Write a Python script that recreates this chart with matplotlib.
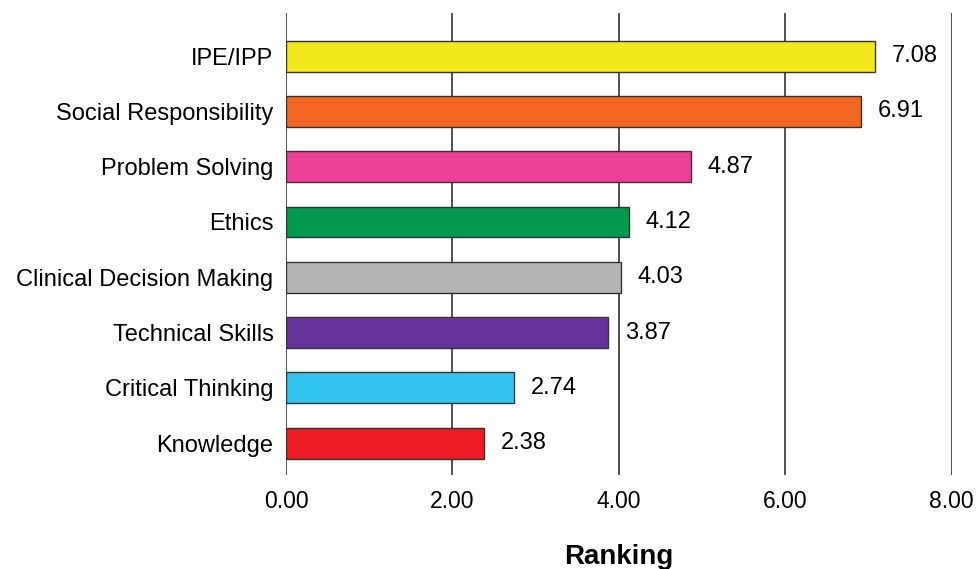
import matplotlib
matplotlib.use("Agg")
import matplotlib.pyplot as plt

categories = ["Knowledge", "Critical Thinking", "Technical Skills", "Clinical Decision Making",
              "Ethics", "Problem Solving", "Social Responsibility", "IPE/IPP"]
values = [2.38, 2.74, 3.87, 4.03, 4.12, 4.87, 6.91, 7.08]
colors = ["#ED1C24", "#33C5F2", "#663399", "#B4B4B4", "#009A4E", "#EC3F96", "#F26522", "#F2E81C"]
xticks = [0, 2, 4, 6, 8]

plt.rcParams['font.family'] = ['Liberation Sans', 'DejaVu Sans']

fig = plt.figure(figsize=(9.76, 5.69), dpi=100)
ax = fig.add_axes([0.293, 0.165, 0.682, 0.812])

for x in xticks:
    ax.axvline(x, color="#222222", lw=1.1, zorder=0)

ypos = list(range(len(categories)))
ax.barh(ypos, values, height=0.56, color=colors, edgecolor="#333333", linewidth=1.0, zorder=2)
for y, v in zip(ypos, values):
    ax.text(v + 0.2, y, f"{v:.2f}", va="center", ha="left", fontsize=17)

ax.set_xlim(0, 8)
ax.set_ylim(-0.58, 7.78)
ax.set_yticks(ypos)
ax.set_yticklabels(categories, fontsize=17)
ax.set_xticks(xticks)
ax.set_xticklabels([f"{x:.2f}" for x in xticks], fontsize=16.5)
ax.tick_params(axis="both", length=0)
ax.tick_params(axis="x", pad=11)
ax.tick_params(axis="y", pad=9)
for s in ax.spines.values():
    s.set_visible(False)
ax.set_xlabel("Ranking", fontsize=20, fontweight="bold", labelpad=22)

fig.savefig("out.png", dpi=100)
